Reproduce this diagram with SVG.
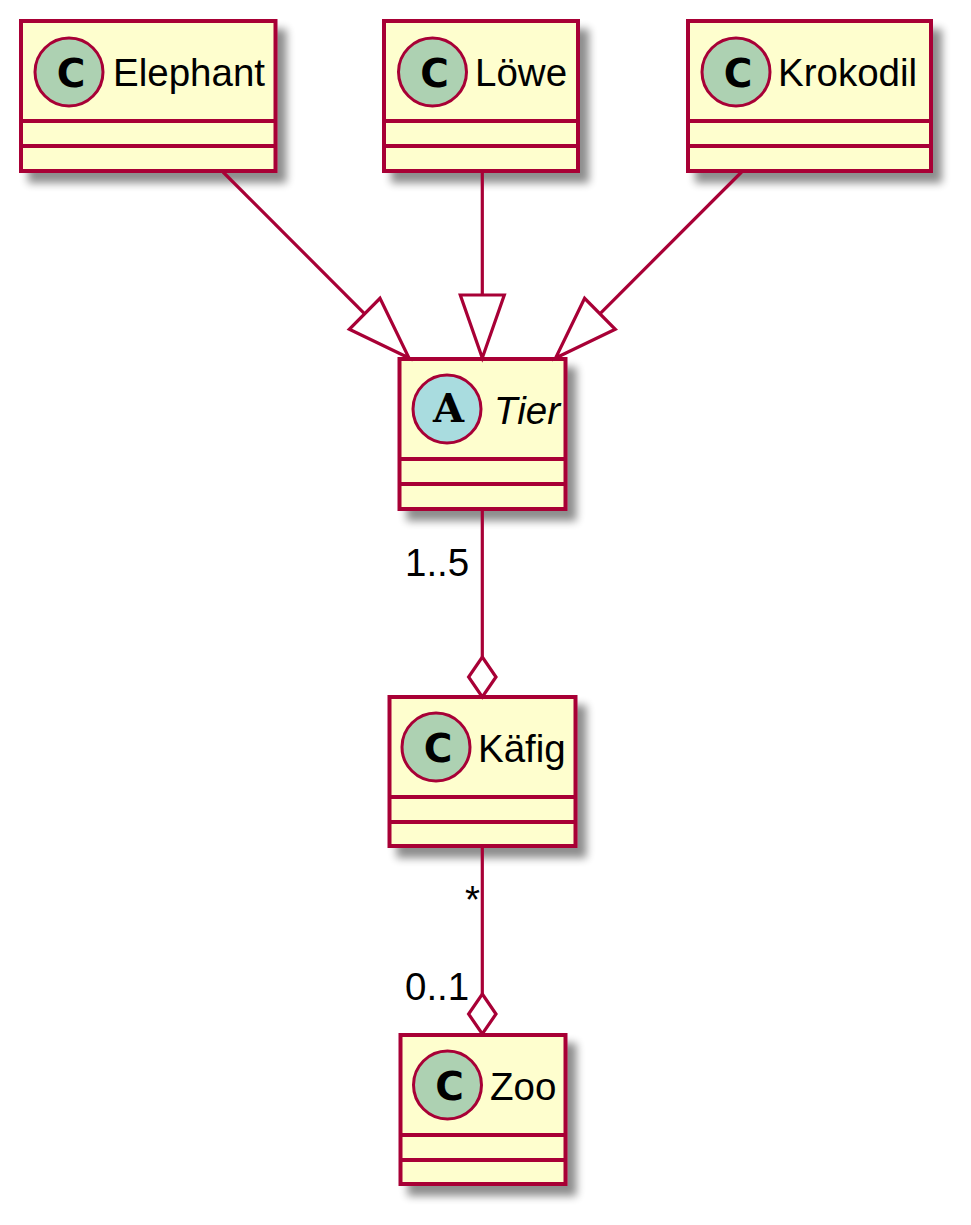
<svg xmlns="http://www.w3.org/2000/svg" width="971" height="1225" viewBox="0 0 971 1225">
<defs>
<filter id="sh" x="-10%" y="-10%" width="130%" height="130%">
<feGaussianBlur in="SourceAlpha" stdDeviation="4"/>
<feOffset dx="9" dy="10" result="b"/>
<feComponentTransfer><feFuncA type="linear" slope="0.45"/></feComponentTransfer>
<feMerge><feMergeNode/><feMergeNode in="SourceGraphic"/></feMerge>
</filter>
</defs>
<style>
.box{fill:#FEFECE;stroke:#A80036;stroke-width:4;filter:url(#sh)}
.div{stroke:#A80036;stroke-width:4}
.ci{stroke:#A80036;stroke-width:3}
.cc{fill:#ADD1B2}
.ca{fill:#A9DCDF}
.name{font-family:"Liberation Sans",Arial,sans-serif;font-size:38.5px;fill:#000}
.glyph{font-family:"DejaVu Sans",sans-serif;font-weight:bold;font-size:39px;fill:#000;text-anchor:middle}
.glyphA{font-family:"DejaVu Serif",serif;font-weight:bold;font-size:40px;fill:#000;text-anchor:middle}
.lbl{font-family:"Liberation Sans",Arial,sans-serif;font-size:38.5px;fill:#000}
.ln{stroke:#A80036;stroke-width:3.2;fill:none}
.hd{stroke:#A80036;stroke-width:3.2;fill:#FFFFFF}
</style>
<rect width="971" height="1225" fill="#FFFFFF"/>

<g id="Elephant">
<rect class="box" x="21" y="21" width="254.5" height="150"/>
<line class="div" x1="21" y1="121" x2="275.5" y2="121"/>
<line class="div" x1="21" y1="146" x2="275.5" y2="146"/>
<circle class="ci cc" cx="69" cy="72" r="34"/>
<text class="glyph" x="71" y="86.5">C</text>
<text class="name" x="113" y="86">Elephant</text>
</g>

<g id="Loewe">
<rect class="box" x="384" y="21" width="194" height="150"/>
<line class="div" x1="384" y1="121" x2="578" y2="121"/>
<line class="div" x1="384" y1="146" x2="578" y2="146"/>
<circle class="ci cc" cx="432.5" cy="72" r="34"/>
<text class="glyph" x="434.5" y="86.5">C</text>
<text class="name" x="475" y="86">Löwe</text>
</g>

<g id="Krokodil">
<rect class="box" x="688" y="21" width="243" height="150"/>
<line class="div" x1="688" y1="121" x2="931" y2="121"/>
<line class="div" x1="688" y1="146" x2="931" y2="146"/>
<circle class="ci cc" cx="736" cy="72" r="34"/>
<text class="glyph" x="738" y="86.5">C</text>
<text class="name" x="778" y="86">Krokodil</text>
</g>

<g id="Tier">
<rect class="box" x="399.5" y="359" width="166" height="150"/>
<line class="div" x1="399.5" y1="459" x2="565.5" y2="459"/>
<line class="div" x1="399.5" y1="484" x2="565.5" y2="484"/>
<circle class="ci ca" cx="447" cy="409" r="34"/>
<text class="glyphA" x="448.5" y="422">A</text>
<text class="name" x="494" y="424" font-style="italic">Tier</text>
</g>

<g id="Kaefig">
<rect class="box" x="389.5" y="697" width="186" height="149"/>
<line class="div" x1="389.5" y1="797" x2="575.5" y2="797"/>
<line class="div" x1="389.5" y1="822" x2="575.5" y2="822"/>
<circle class="ci cc" cx="436" cy="747" r="34"/>
<text class="glyph" x="438" y="761.5">C</text>
<text class="name" x="478" y="762">Käfig</text>
</g>

<g id="Zoo">
<rect class="box" x="400.5" y="1035" width="165" height="149"/>
<line class="div" x1="400.5" y1="1135" x2="565.5" y2="1135"/>
<line class="div" x1="400.5" y1="1160" x2="565.5" y2="1160"/>
<circle class="ci cc" cx="447.5" cy="1085" r="34"/>
<text class="glyph" x="449.5" y="1099.5">C</text>
<text class="name" x="490" y="1100">Zoo</text>
</g>

<g id="connectors">
<line class="ln" x1="223" y1="172" x2="364.7" y2="313.8"/>
<polygon class="hd" points="409,358 349.3,329.3 380,298.3"/>
<line class="ln" x1="482.3" y1="172" x2="482.3" y2="295"/>
<polygon class="hd" points="482.3,358 460.3,295 504.3,295"/>
<line class="ln" x1="741.6" y1="172" x2="599.9" y2="313.8"/>
<polygon class="hd" points="555.6,358 615.3,329.3 584.6,298.3"/>
<line class="ln" x1="482.3" y1="510" x2="482.3" y2="657"/>
<polygon class="hd" points="482.3,657 496,677 482.3,697 468.6,677"/>
<text class="lbl" x="405" y="576">1..5</text>
<line class="ln" x1="482.3" y1="847" x2="482.3" y2="994"/>
<polygon class="hd" points="482.3,994 496,1014 482.3,1034 468.6,1014"/>
<text class="lbl" x="465" y="913">*</text>
<text class="lbl" x="405" y="1000">0..1</text>
</g>
</svg>
